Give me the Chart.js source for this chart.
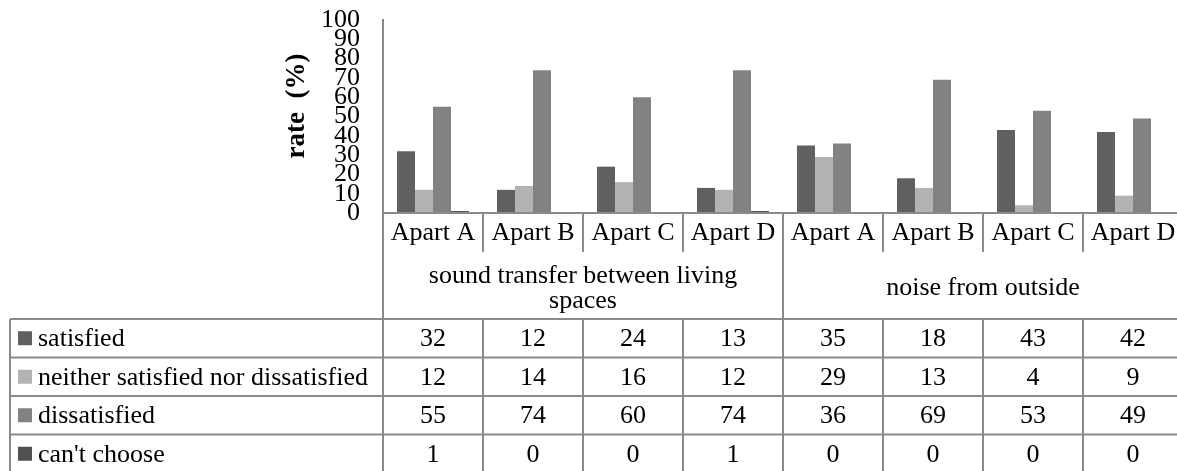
<!DOCTYPE html>
<html>
<head>
<meta charset="utf-8">
<script src="https://cdn.jsdelivr.net/npm/chart.js@4/dist/chart.umd.min.js"></script>
<style>
  html, body { margin: 0; padding: 0; background: #fff; overflow: hidden; }
  #wrap { width: 1177px; height: 471px; overflow: hidden; position: relative; }
  canvas { display: block; }
</style>
</head>
<body>
<div id="wrap"><canvas id="c" width="1200" height="471"></canvas></div>
<script>
// Categories along the x axis and their two top-level groups
const categories = ['Apart A', 'Apart B', 'Apart C', 'Apart D', 'Apart A', 'Apart B', 'Apart C', 'Apart D'];
const groupLabels = ['sound transfer between living spaces', 'noise from outside'];
const groupSizes = [4, 4];

// Survey responses (%)
const seriesNames = ['satisfied', 'neither satisfied nor dissatisfied', 'dissatisfied', "can't choose"];
const satisfied    = [32, 12, 24, 13, 35, 18, 43, 42];
const neither      = [12, 14, 16, 12, 29, 13, 4, 9];
const dissatisfied = [55, 74, 60, 74, 36, 69, 53, 49];
const cantChoose   = [1, 0, 0, 1, 0, 0, 0, 0];

const yTicks = [0, 10, 20, 30, 40, 50, 60, 70, 80, 90, 100];
const yTitle = 'rate  (%)';

const colors = ['#606060', '#b3b3b3', '#828282', '#515151'];
const seriesValues = [satisfied, neither, dissatisfied, cantChoose];

const SERIF = '"Liberation Serif", "Times New Roman", serif';
const LINE = '#8a8a8a';

// Draws the axis title, the two-level category labels and the data table
const tablePlugin = {
  id: 'dataTable',
  afterDraw(chart) {
    const ctx = chart.ctx;
    const x = chart.scales.x;
    const area = chart.chartArea;
    const n = categories.length;
    const step = x.width / n;
    const left = area.left;
    const right = chart.width;
    const bottom = chart.height + 4;

    const catRowBottom = area.bottom + 39;
    const groupRowBottom = area.bottom + 106;
    const rowH = 38.5;

    ctx.save();
    ctx.strokeStyle = LINE;
    ctx.lineWidth = 2;
    const line = (x1, y1, x2, y2) => {
      ctx.beginPath(); ctx.moveTo(x1, y1); ctx.lineTo(x2, y2); ctx.stroke();
    };

    // axis title
    ctx.save();
    ctx.translate(297, 106);
    ctx.rotate(-Math.PI / 2);
    ctx.fillStyle = '#000';
    ctx.font = 'bold 27px ' + SERIF;
    ctx.textAlign = 'center';
    ctx.textBaseline = 'middle';
    ctx.fillText(yTitle, 0, 0);
    ctx.restore();

    // table frame
    line(left, area.bottom, left, bottom);
    line(10, groupRowBottom, right, groupRowBottom);
    for (let r = 1; r < seriesNames.length; r++) {
      const yy = groupRowBottom + r * rowH;
      line(10, yy, right, yy);
    }
    line(10, groupRowBottom, 10, bottom);

    // category dividers
    let idx = 0;
    const groupEdges = [0];
    groupSizes.forEach(s => { idx += s; groupEdges.push(idx); });
    for (let i = 1; i <= n; i++) {
      const bx = x.getPixelForValue(i) - step / 2;
      if (groupEdges.includes(i)) {
        line(bx, area.bottom, bx, bottom);
      } else {
        line(bx, area.bottom, bx, catRowBottom);
        line(bx, groupRowBottom, bx, bottom);
      }
    }

    ctx.fillStyle = '#000';
    ctx.textAlign = 'center';
    ctx.textBaseline = 'middle';
    ctx.font = '26px ' + SERIF;

    // category labels
    categories.forEach((c, i) => {
      ctx.fillText(c, x.getPixelForValue(i), area.bottom + 20);
    });

    // group labels (wrapped)
    groupLabels.forEach((g, gi) => {
      const start = groupEdges[gi], end = groupEdges[gi + 1];
      const gx0 = x.getPixelForValue(start) - step / 2;
      const gx1 = x.getPixelForValue(end - 1) + step / 2;
      const maxW = (gx1 - gx0) - 60;
      const words = g.split(' ');
      const lines = [];
      let cur = '';
      words.forEach(w => {
        const t = cur ? cur + ' ' + w : w;
        if (ctx.measureText(t).width > maxW && cur) { lines.push(cur); cur = w; }
        else cur = t;
      });
      if (cur) lines.push(cur);
      const lh = 25;
      const cy = (catRowBottom + groupRowBottom) / 2 + 3;
      lines.forEach((l, li) => {
        ctx.fillText(l, (gx0 + gx1) / 2, cy + (li - (lines.length - 1) / 2) * lh);
      });
    });

    // data rows
    seriesNames.forEach((name, r) => {
      const cy = groupRowBottom + r * rowH + rowH / 2;
      ctx.fillStyle = colors[r];
      ctx.fillRect(18, cy - 7, 14, 14);
      ctx.fillStyle = '#000';
      ctx.textAlign = 'left';
      ctx.fillText(name, 38, cy + 1);
      ctx.textAlign = 'center';
      seriesValues[r].forEach((v, i) => {
        ctx.fillText(String(v), x.getPixelForValue(i), cy + 1);
      });
    });

    ctx.restore();
  }
};

new Chart(document.getElementById('c'), {
  type: 'bar',
  data: {
    labels: categories,
    datasets: seriesNames.map((name, i) => ({
      label: name,
      data: seriesValues[i],
      backgroundColor: colors[i],
      borderWidth: 0,
      categoryPercentage: 0.72,
      barPercentage: 1.0
    }))
  },
  options: {
    responsive: false,
    animation: false,
    devicePixelRatio: 1,
    layout: { padding: { top: 20, right: 17, left: 0, bottom: 0 } },
    plugins: { legend: { display: false }, tooltip: { enabled: false } },
    scales: {
      x: {
        grid: { display: false, drawTicks: false },
        border: { display: true, color: LINE, width: 2, z: 1 },
        ticks: { display: false },
        afterFit(scale) {
          scale.height = 258;
          scale.paddingLeft = 0; scale.paddingRight = 0;
        }
      },
      y: {
        min: 0,
        max: 100,
        afterBuildTicks(scale) { scale.ticks = yTicks.map(v => ({ value: v })); },
        ticks: {
          autoSkip: false,
          color: '#000',
          padding: 23,
          font: { family: SERIF, size: 26, lineHeight: 0.7 }
        },
        grid: { display: false, drawTicks: false },
        border: { display: true, color: LINE, width: 2, z: 1 },
        afterFit(scale) {
          scale.width = 383;
          scale.paddingTop = 0; scale.paddingBottom = 0;
        }
      }
    }
  },
  plugins: [tablePlugin]
});
</script>
</body>
</html>
